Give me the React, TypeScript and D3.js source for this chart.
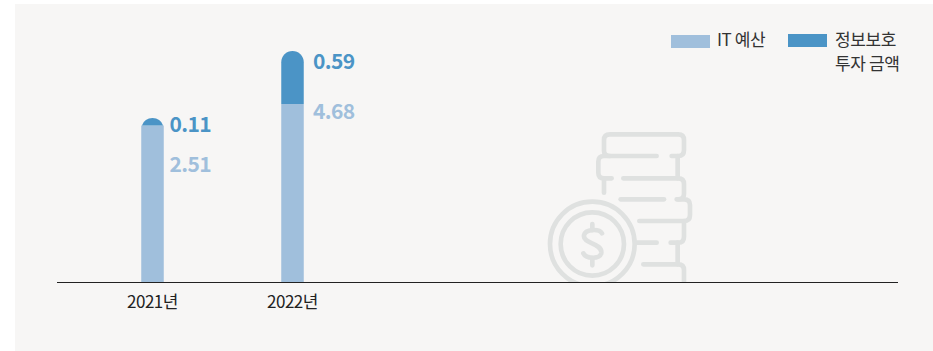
import React from "react";
import * as d3 from "d3";

const years = ["2021년", "2022년"];
const itBudget = [2.51, 4.68];
const securitySpend = [0.11, 0.59];
const legendIt = "IT 예산";
const legendSecurity = ["정보보호", "투자 금액"];

const W = 933;
const H = 351;
const FONT = "'Noto Sans CJK KR', 'Noto Sans', sans-serif";
const LIGHT = "#a0bfdc";
const DARK = "#4b94c6";
const ICON = "#dfe1e0";
const baseY = 282.5;

// The reference's bars are not drawn in proportion to their values, so the
// cumulative value axis is piecewise linear through the heights it shows.
const y = d3
  .scaleLinear()
  .domain([0, 2.51, 2.62, 4.68, 5.27])
  .range([baseY, 125.5, 118, 104, 51]);

const x = d3.scalePoint<string>().domain(years).range([152.5, 292.5]);
const barW = 22.5;

// Label placement per bar, as offsets from the bar.
const labelDx = [17, 20.5];
const secLabelBaseline = [131.5, 69];
const itLabelBaseline = [172, 119];

function topRounded(cx: number, yTop: number, yBot: number, w: number) {
  const hw = w / 2;
  const h = yBot - yTop;
  const path = d3.path();
  if (h >= hw) {
    path.moveTo(cx - hw, yBot);
    path.lineTo(cx - hw, yTop + hw);
    path.arc(cx, yTop + hw, hw, Math.PI, 0);
    path.lineTo(cx + hw, yBot);
    path.closePath();
  } else {
    const a = Math.acos((hw - h) / hw);
    path.moveTo(cx - hw * Math.sin(a), yBot);
    path.arc(cx, yTop + hw, hw, -Math.PI / 2 - a, -Math.PI / 2 + a);
    path.closePath();
  }
  return path.toString();
}

const iconPaths = [
  "M380 108H240Q222 108 222 92V60Q222 43 240 43H445Q462 43 462 60V90Q462 108 445 108H425",
  "M240 108H222Q205 108 205 125V158Q205 175 222 175H245",
  "M222 175V218",
  "M443 108V175",
  "M280 175H445Q462 175 462 192V222Q462 238 445 238H440",
  "M272 238H402",
  "M445 238H462Q480 238 480 255V285Q480 303 462 303H328",
  "M462 303V350Q462 368 445 368H422",
  "M318 368H380",
  "M443 368V433",
  "M340 433H445Q462 433 462 450V500",
  "M216 340C208 326 166 326 162 346C158 372 216 368 214 398C212 418 168 418 160 400",
  "M187 312V330M187 414V436",
];

export default function App() {
  return (
    <svg
      width={W}
      height={H}
      viewBox={`0 0 ${W} ${H}`}
      style={{ position: "absolute", left: 0, top: 0, display: "block" }}
    >
      <rect x={0} y={0} width={W} height={H} fill="#ffffff" />
      <rect x={15} y={4} width={W - 15} height={H - 4} fill="#f7f6f5" />

      <defs>
        <clipPath id="icon-clip">
          <rect x={500} y={100} width={240} height={baseY - 100} />
        </clipPath>
      </defs>
      <g clipPath="url(#icon-clip)">
        <g
          transform="translate(530,120) scale(0.3333)"
          fill="none"
          stroke={ICON}
          strokeWidth={14}
          strokeLinecap="round"
          strokeLinejoin="round"
        >
          {iconPaths.map((d, i) => (
            <path key={i} d={d} />
          ))}
          <circle cx={187} cy={372} r={127} />
          <circle cx={187} cy={372} r={95} />
        </g>
      </g>

      {years.map((yr, i) => {
        const cx = x(yr)!;
        const it = itBudget[i];
        const sec = securitySpend[i];
        const total = it + sec;
        const labelX = cx + labelDx[i];
        return (
          <g key={yr}>
            <rect x={cx - barW / 2} y={y(it)} width={barW} height={baseY - y(it)} fill={LIGHT} />
            <path d={topRounded(cx, y(total), y(it), barW)} fill={DARK} />
            <text
              x={labelX}
              y={secLabelBaseline[i]}
              fontFamily={FONT}
              fontSize={21}
              fontWeight={700}
              letterSpacing={-0.6}
              fill={DARK}
            >
              {sec.toFixed(2)}
            </text>
            <text
              x={labelX}
              y={itLabelBaseline[i]}
              fontFamily={FONT}
              fontSize={21}
              fontWeight={700}
              letterSpacing={-0.6}
              fill={LIGHT}
            >
              {it.toFixed(2)}
            </text>
            <text
              x={cx}
              y={308}
              textAnchor="middle"
              fontFamily={FONT}
              fontSize={17}
              letterSpacing={-0.5}
              fill="#222222"
            >
              {yr}
            </text>
          </g>
        );
      })}

      <line x1={57} x2={898} y1={baseY} y2={baseY} stroke="#222222" strokeWidth={1.2} />

      <rect x={671} y={35} width={39} height={13} fill={LIGHT} />
      <text x={717} y={46} fontFamily={FONT} fontSize={17} letterSpacing={-0.4} fill="#333333">
        {legendIt}
      </text>
      <rect x={788} y={34} width={39} height={13} fill={DARK} />
      {legendSecurity.map((t, i) => (
        <text
          key={t}
          x={835}
          y={46 + i * 24}
          fontFamily={FONT}
          fontSize={17}
          letterSpacing={-0.4}
          fill="#333333"
        >
          {t}
        </text>
      ))}
    </svg>
  );
}
